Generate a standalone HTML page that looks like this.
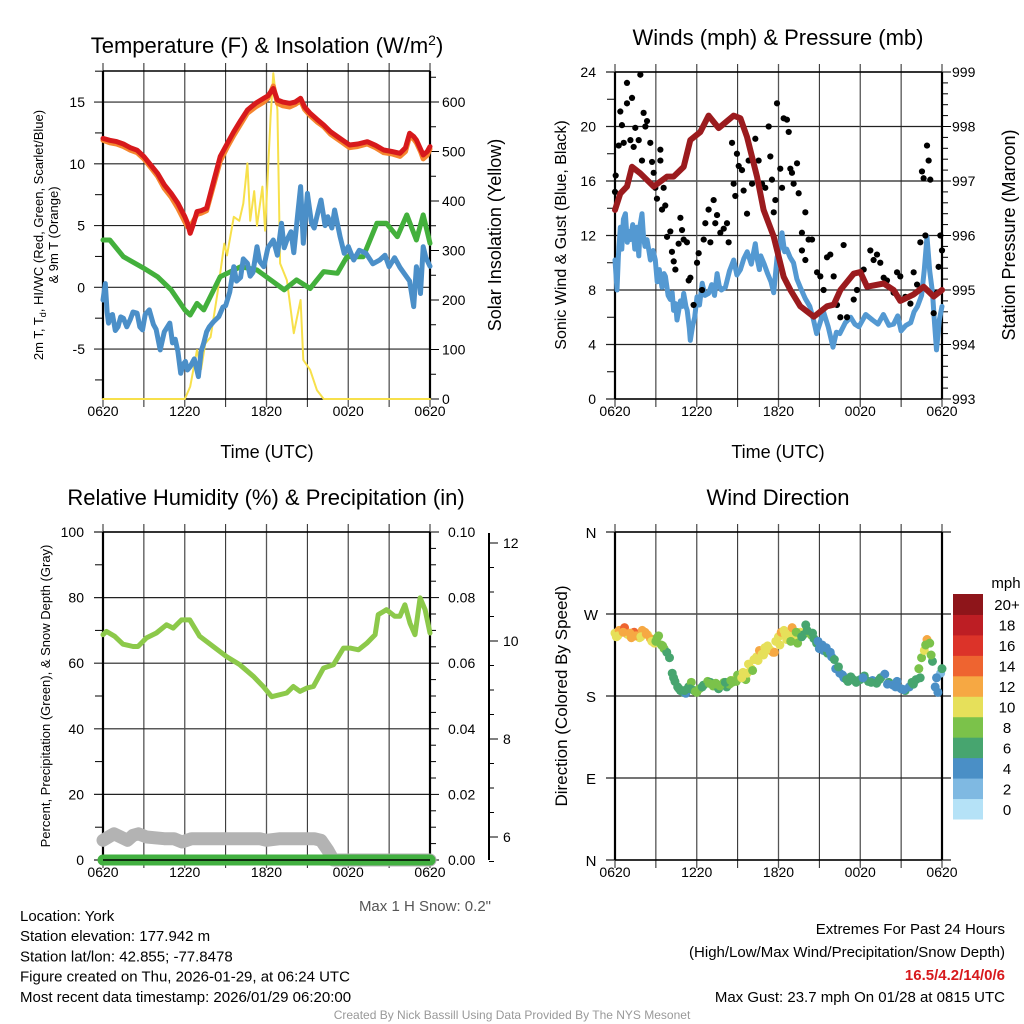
<!DOCTYPE html>
<html><head><meta charset="utf-8"><style>
html,body{margin:0;padding:0;background:#fff;width:1024px;height:1024px;overflow:hidden}
svg text{font-family:"Liberation Sans",sans-serif;fill:#000}
</style></head><body>
<svg id="root" xmlns="http://www.w3.org/2000/svg" width="1024" height="1024" viewBox="0 0 1024 1024"></svg>
<script>
// ---------- DATA ----------
const xTickLabels=["0620","1220","1820","0020","0620"];
const tempTicks=[-5,0,5,10,15];
const solarTicks=[0,100,200,300,400,500,600];
const windTicks=[0,4,8,12,16,20,24];
const presTicks=[993,994,995,996,997,998,999];
const rhTicks=[0,20,40,60,80,100];
const precipTicks=["0.00","0.02","0.04","0.06","0.08","0.10"];
const depthTicks=[6,8,10,12];
const dirLabels=["N","E","S","W","N"];
const dirTickDeg=[0,90,180,270,360];
const speedBins=["0","2","4","6","8","10","12","14","16","18","20+"];
const speedColors=["#b5e2f7","#7fb9e2","#4a8fc6","#47a56f","#7bc24a","#e6e05a","#f6a843","#ee6430","#dc3329","#bd1e24","#8e151a"];

const redH=[0,0.5,1,1.5,2,2.5,3,3.5,4,4.5,5,5.5,6,6.2,6.4,6.6,6.9,7.2,7.6,8.1,8.6,9.1,9.6,10.1,10.6,11.2,11.8,12.1,12.5,12.8,13.2,13.7,14.1,14.5,14.8,15.2,15.7,16.2,16.7,17.2,17.6,18.1,18.7,19.4,20,20.6,21.2,21.8,22.2,22.5,22.8,23,23.3,23.5,23.8,24];
const redV=[12.06,11.9,11.8,11.6,11.3,11.1,10.58,9.9,9.23,8.3,7.61,6.8,5.72,5.2,4.37,5.0,6.13,6.2,6.4,8.5,10.58,11.6,12.6,13.5,14.35,14.9,15.3,15.5,16.1,15.17,15.0,14.9,15.0,15.3,14.6,14.09,13.6,13.14,12.6,12.2,11.9,11.52,11.6,11.79,11.5,11.12,11.0,10.85,11.3,12.47,12.2,11.93,11.2,10.71,11.0,11.39];
const orangeV=[11.9,11.7,11.6,11.4,11.1,10.9,10.4,9.7,9.0,8.0,7.3,6.4,5.3,4.9,4.9,5.3,5.9,6.0,6.2,8.2,10.2,11.3,12.3,13.2,14.1,14.6,15.0,15.3,16.3,14.9,14.7,14.6,14.8,15.1,14.4,13.9,13.4,13.0,12.4,12.0,11.7,11.3,11.4,11.6,11.3,10.9,10.8,10.6,11.0,12.2,12.0,11.7,11.0,10.4,10.7,11.2];
const greenH=[0,0.5,1.5,3,4,5,6,6.4,6.9,7.4,8.6,10.1,11.3,12.3,13.3,14.2,15.2,16.2,17.2,17.9,19.1,20.1,20.8,21.6,22.3,23,23.5,24];
const greenV=[3.83,3.83,2.48,1.54,0.86,-0.2,-1.83,-2.24,-1.3,-1.83,0.86,1.67,1.4,0.6,-0.2,0.6,-0.1,1.27,1.13,2.48,2.48,5.18,5.18,4.1,5.86,3.83,5.86,3.56];
const blueH=[0,0.17,0.3,0.4,0.55,0.7,0.9,1.1,1.3,1.5,1.75,2.0,2.2,2.5,2.7,2.9,3.1,3.4,3.7,3.9,4.2,4.5,4.9,5.1,5.3,5.5,5.7,5.9,6.05,6.2,6.4,6.7,7.0,7.2,7.4,7.6,7.8,8.1,8.5,8.8,9.0,9.3,9.6,9.8,10.1,10.3,10.6,10.8,11.0,11.3,11.5,11.8,12.1,12.5,12.8,13.1,13.3,13.5,13.8,14.0,14.3,14.5,14.7,15.0,15.3,15.5,15.8,16.0,16.3,16.5,16.8,17.0,17.4,17.7,18.0,18.4,18.8,19.3,19.8,20.3,20.7,21.0,21.4,21.8,22.1,22.5,22.8,23.0,23.2,23.3,23.5,23.7,24];
const blueV=[-1.03,0.3,-2.0,-2.9,-2.3,-2.2,-3.5,-3.2,-2.4,-2.5,-3.2,-2.6,-2.0,-2.1,-3.2,-3.45,-2.2,-1.83,-3.0,-3.4,-5.07,-3.6,-2.9,-4.5,-4.2,-5.2,-6.96,-6.2,-6.0,-6.7,-6.42,-5.8,-7.23,-5.2,-4.5,-3.6,-3.2,-2.8,-2.37,-1.6,-1.5,-0.4,1.67,0.5,0.8,2.3,1.94,0.9,1.2,3.29,2.1,1.67,3.2,3.83,2.6,5.18,3.2,3.83,4.5,2.8,6.0,8.15,3.56,7.6,5.2,4.8,6.2,7.07,5.0,5.72,4.8,6.26,4.1,2.75,3.3,2.21,3.0,2.75,1.9,2.2,2.6,1.67,2.4,1.6,1.13,0.5,-1.56,1.67,0.8,-0.5,3.29,2.4,1.7];
const solarH=[0,6.0,6.4,6.9,7.2,7.5,7.9,8.4,8.9,9.1,9.6,10.0,10.3,10.6,10.8,11.1,11.3,11.7,11.9,12.3,12.5,12.8,13.0,13.5,14.0,14.5,14.7,15.2,15.7,16.2,24];
const solarV=[0,0,25,99,60,112,125,213,314,290,368,360,395,476,360,420,350,429,340,570,658,584,274,240,133,200,79,59,18,0,0];

const sonicH=[0,0.15,0.25,0.39,0.5,0.62,0.76,0.9,1.0,1.13,1.3,1.45,1.59,1.75,1.85,1.98,2.1,2.2,2.35,2.5,2.6,2.8,2.96,3.1,3.25,3.45,3.6,3.7,3.9,4.06,4.2,4.3,4.45,4.55,4.7,4.8,4.95,5.04,5.2,5.3,5.45,5.53,5.7,5.85,6.02,6.2,6.4,6.6,6.87,7.1,7.3,7.49,7.65,7.8,8.1,8.4,8.71,8.95,9.2,9.45,9.7,10.0,10.3,10.45,10.6,10.7,10.95,11.2,11.45,11.65,11.9,12.1,12.26,12.45,12.6,12.85,13.1,13.35,13.6,13.95,14.3,14.55,14.8,15.05,15.3,15.65,16,16.25,16.5,16.9,17.3,17.6,17.9,18.4,18.9,19.3,19.7,20.1,20.45,20.75,21,21.35,21.7,21.95,22.2,22.5,22.7,22.9,23.1,23.3,23.45,23.6,23.8,24];
const sonicV=[10.2,8,10.5,12.6,11,13.2,13.6,11.5,12.3,11.7,12.8,11,12.6,10.5,12.8,13.6,11.8,11.2,11.7,10.8,10.2,10.9,10.2,8.6,9.5,8.2,9.2,9,7.6,7.3,7.8,6.5,7.0,5.8,6.6,7.2,6.8,7.75,6.8,6.5,5.2,4.3,5.4,6,7.5,6.9,8.5,7.6,7.75,8.4,7.6,9.2,8.3,8,8.2,9.4,10.2,9.1,9.5,10.3,10.8,9.9,11.4,10.2,9.5,10.5,9.9,9.2,8.6,7.8,10.4,11.2,12.2,10.8,11,10.4,10,8.8,8.2,7.4,6.8,5.9,4.8,5.6,6.4,5.3,3.8,4.9,4.8,5.6,6,5.5,5.3,6.2,5.8,5.5,6.2,5.4,5.5,6.1,5,5.4,5.6,6.4,6.8,7.6,9.5,11.9,9.4,7.8,5.6,3.6,5.8,6.8];
const gustH=[0,0.05,0.27,0.39,0.51,0.64,0.88,0.88,1.25,1.13,1.37,1.49,1.74,1.86,2.1,2.23,2.35,1.98,2.59,2.72,2.84,2.96,3.08,3.33,3.33,3.57,3.45,3.69,3.82,4.06,4.18,4.31,4.43,4.67,4.8,4.92,5.04,5.28,5.41,5.53,5.77,6.02,6.14,6.39,6.51,6.63,6.87,7.0,7.24,7.36,7.49,7.73,7.98,8.22,8.34,8.59,8.71,8.83,8.95,9.08,9.32,9.44,9.69,9.81,10.06,10.3,10.54,10.79,11.03,11.28,11.4,11.52,11.65,11.77,11.89,12.13,12.26,12.38,12.62,12.75,12.87,12.99,13.11,13.36,13.48,13.72,13.97,13.72,13.97,14.21,14.46,14.83,15.07,15.31,15.56,15.8,16.05,16.29,16.54,16.78,17.03,17.52,17.76,18.25,18.74,18.98,19.23,19.47,19.72,19.96,20.45,20.7,20.94,21.31,21.68,21.92,22.17,22.41,22.53,22.65,22.78,22.9,23.02,23.14,23.39,23.63,23.75,23.88,24];
const gustV=[15.2,16.4,18.6,21.1,20.1,18.8,23.2,21.7,22.1,19,18.5,19.9,19,23.8,21,20,20.4,17.5,18.8,17.4,16.6,15.5,14.7,18.3,17.5,15.5,13.9,14.2,11.9,12.3,10.8,10.1,9.5,11.4,13.3,12.4,11.7,11.5,8.7,8.9,6.9,10,10.7,8,11.7,12.9,13.9,11.5,14.6,12.9,13.5,12.2,12.5,12.9,11.5,18.8,15.8,14.9,18,17.1,16.8,15.3,13.6,17.5,15.8,19.1,17.5,15.8,15.5,20,17.8,16.1,13.7,14.6,21.7,16.9,15.5,20.6,20.5,19.6,16.9,16.6,15.8,17.3,15.1,12.2,13.7,10.9,10.2,11.7,11.7,9.3,9,8,10.4,10.6,9,6.9,6,11.3,6,7.3,8,9.5,10.9,10.2,10.6,10,8.9,8.7,7.8,9.3,9,7.5,7,9.3,8.4,11.5,16.7,16.2,12,18.6,17.5,16.1,6.3,7.8,9.7,12,10.9];
const presH=[0,0.39,0.88,1.25,1.86,2.84,3.82,4.3,5.04,5.53,6.26,6.87,7.61,8.71,9.2,9.69,10.42,10.91,11.65,12.38,12.87,13.6,14.6,15.56,16.05,16.54,17.52,18,18.5,19.72,20.45,20.94,21.92,22.65,23.39,24];
const presV=[996.47,996.77,996.9,997.26,997.14,996.9,997.08,997.08,997.26,997.75,997.9,998.2,997.97,998.2,998.15,997.81,997.08,996.47,995.98,995.24,995,994.7,994.51,994.7,994.73,995,995.3,995.33,995.06,995.12,995,994.8,994.92,995.06,994.88,995];

const rhH=[0,0.25,0.86,1.47,2.2,2.57,3.19,3.92,4.66,5.15,5.76,6.37,7.1,8.09,9.07,10.05,11.03,11.76,12.38,13.48,13.97,14.46,14.95,15.44,16.18,16.91,17.65,18.14,18.75,19.36,19.97,20.2,20.81,21.42,21.79,22.16,22.53,22.9,23.27,23.64,24];
const rhV=[68.7,69.7,68.2,65.8,65.1,65.1,67.7,69.2,71.7,70.7,73.2,73.2,68.2,65.1,62,59.5,56,52.9,49.8,50.9,52.9,51.4,52.4,52.9,58.5,59.5,64.6,64.6,64.1,66.1,68.7,74.8,76.3,74.3,74.3,77.8,72.2,68.7,79.9,76.3,69.2];
const snowH=[0,0.4,0.8,1.3,1.8,2.2,2.6,3.2,4.5,5.2,5.8,6.5,8,10,11.5,12,13,14,15,15.5,16,16.5,16.9,18,24];
const snowV=[6,7,8,7,6,7.5,8,7,6.5,6.5,5.5,6.5,6.5,6.5,6.5,6,6.5,6.5,6.5,6.5,6,3,0,0,0];
const precipH=[0,24];
const precipV=[0,0];

const dirH=[0,0.1,0.3,0.5,0.7,0.9,1.0,1.2,1.4,1.6,1.8,2.0,2.2,2.4,2.6,2.7,2.9,3.1,3.2,3.4,3.6,3.8,4.0,4.2,4.4,4.6,4.8,5.0,5.2,5.4,5.6,5.8,6.0,6.2,6.5,6.8,7.0,7.2,7.4,7.6,7.8,8.0,8.2,8.4,8.6,8.8,9.0,9.2,9.4,9.6,9.8,10.0,10.2,10.4,10.6,10.8,11.0,11.2,11.4,11.6,11.8,12.0,12.2,12.4,12.6,12.8,13.0,13.2,13.4,13.6,13.8,14.0,14.2,14.4,14.6,14.8,15.0,15.3,15.6,15.9,16.2,16.5,16.8,17.1,17.4,17.7,18.0,18.3,18.6,18.9,19.2,19.5,19.8,20.1,20.4,20.7,21.0,21.3,21.6,21.9,22.1,22.3,22.5,22.7,22.9,23.1,23.3,23.5,23.7,23.9,24,
 0.2,0.6,1.1,1.5,1.9,2.3,3.0,3.5,4.3,4.7,5.1,5.5,5.9,6.4,6.9,7.3,7.7,8.1,8.5,8.9,9.3,9.7,10.1,10.5,10.9,11.3,11.7,12.1,12.5,12.9,13.3,13.7,14.1,14.5,14.9,15.2,15.5,15.8,16.1,16.4,16.7,17.0,17.3,17.6,18.2,18.8,19.4,20.0,20.6,21.2,21.8,22.4,22.8,23.2,23.6];
const dirV=[249,245,252,250,255,248,247,244,250,246,244,252,250,247,243,240,238,244,246,236,232,228,222,205,196,190,186,184,183,190,195,186,184,188,192,196,195,191,194,188,192,195,190,193,195,198,203,200,206,198,215,210,220,223,230,226,233,235,230,228,240,245,250,252,242,247,255,243,238,250,247,258,250,247,243,238,232,230,227,223,210,205,200,196,199,195,198,202,196,197,194,200,204,195,192,196,188,186,190,193,198,210,222,230,242,238,218,190,184,205,210,
 246,250,249,246,245,248,240,235,200,188,186,188,185,190,194,193,191,195,197,196,200,205,208,219,225,232,228,236,248,240,250,245,252,249,240,236,233,228,220,212,203,198,201,197,200,195,198,193,190,187,195,200,236,225,200];
const dirS=[10,10,12,12,14,12,11,12,14,12,11,12,12,10,12,11,10,8,9,8,8,7,6,7,6,7,6,6,5,7,8,6,8,8,7,8,7,8,8,7,9,8,7,8,9,10,9,8,10,9,10,10,10,11,12,11,10,10,11,12,10,11,12,10,11,10,12,10,9,10,7,7,8,8,6,7,5,5,6,5,4,4,5,6,6,6,7,6,6,5,6,6,5,6,4,5,5,6,5,6,7,8,9,10,12,9,7,5,4,3,6,
 11,12,12,13,10,12,9,8,6,7,6,7,8,7,8,9,8,7,9,8,10,10,9,10,11,10,12,10,11,9,8,7,6,6,5,4,5,4,6,6,5,6,6,6,5,6,6,5,4,5,6,7,8,8,5];

// ---------- HELPERS ----------
const NS="http://www.w3.org/2000/svg";
const root=document.getElementById('root');
function el(tag,attrs,parent){const e=document.createElementNS(NS,tag);for(const k in attrs)e.setAttribute(k,attrs[k]);(parent||root).appendChild(e);return e;}
function txt(s,x,y,size,anchor,parent,extra){const t=el('text',Object.assign({x:x,y:y,'font-size':size,'text-anchor':anchor||'middle'},extra||{}),parent);t.textContent=s;return t;}
function line(x1,y1,x2,y2,c,w,parent){return el('line',{x1:x1,y1:y1,x2:x2,y2:y2,stroke:c,'stroke-width':w},parent);}
function poly(H,V,xs,ys,color,w,parent){let d='';for(let i=0;i<H.length;i++)d+=(i?'L':'M')+xs(H[i]).toFixed(1)+','+ys(V[i]).toFixed(1);return el('path',{d:d,fill:'none',stroke:color,'stroke-width':w,'stroke-linejoin':'round','stroke-linecap':'round'},parent);}

function frame(g,x0,x1,yt,yb){
  for(let k=0;k<=8;k++){const x=x0+k*(x1-x0)/8;const l=line(x,yt-8,x,yb+8,k%2?'#222':'#555',k%2?1:1.3,g);
    
    }
  line(x0,yt,x1,yt,'#000',1.5,g);line(x0,yb,x1,yb,'#000',1.5,g);
  line(x0,yt,x0,yb,'#000',2.2,g);line(x1,yt,x1,yb,'#000',2.2,g);
  for(let k=0;k<5;k++){const t=txt(xTickLabels[k],x0+k*(x1-x0)/4,yb+17,14,'middle',g);
    
    }
}
function hgrid(g,ys,vals,x0,x1){vals.forEach(v=>{line(x0-9,ys(v),x1,ys(v),'#222',1.2,g);});}

// ---------- PANEL 1 ----------
(function(){
  const g=el('g',{});
  const x0=103,x1=430,yt=71,yb=399;
  const xs=h=>x0+h*(x1-x0)/24, yL=v=>287.3-12.35*v, yR=v=>399-0.495*v;
  hgrid(g,yL,tempTicks,x0,x1);
  for(let v=-7.5;v<=17.5;v+=2.5){if(v%5!==0)line(x0-8,yL(v),x0,yL(v),'#000',1,g);}
  for(let v=0;v<=650;v+=50){line(x1,yR(v),x1+(v%100===0?9:6),yR(v),'#000',1,g);}
  frame(g,x0,x1,yt,yb);
  tempTicks.forEach(v=>{const t=txt(String(v),85,yL(v)+5,14,'end',g);});
  solarTicks.forEach(v=>{const t=txt(String(v),442,yR(v)+5,14,'start',g);});
  const s1=poly(solarH,solarV,xs,yR,'#f7e04b',2,g);
  const s2=poly(greenH,greenV,xs,yL,'#43b03c',5,g);
  const s3=poly(blueH,blueV,xs,yL,'#4b8fc8',5,g);
  const s4=poly(redH,orangeV,xs,yL,'#f5862f',5,g);
  const s5=poly(redH,redV,xs,yL,'#d7191c',5,g);
  const tt=el('text',{x:267,y:53,'font-size':22,'text-anchor':'middle'},g);tt.innerHTML='Temperature (F) &amp; Insolation (W/m<tspan dy="-8" font-size="14">2</tspan><tspan dy="8">)</tspan>';
  
  const xt=txt('Time (UTC)',267,458,18,'middle',g);
  const a1=el('text',{x:0,y:0,'font-size':13,'text-anchor':'middle',transform:'translate(43,235) rotate(-90)'},g);a1.innerHTML='2m T, T<tspan dy="3" font-size="9">d</tspan><tspan dy="-3">, HI/WC (Red, Green, Scarlet/Blue)</tspan>';
  
  const a2=txt('& 9m T (Orange)',0,0,13,'middle',g,{transform:'translate(58,235) rotate(-90)'});
  const a3=txt('Solar Insolation (Yellow)',0,0,18,'middle',g,{transform:'translate(501,235) rotate(-90)'});
})();

// ---------- PANEL 2 ----------
(function(){
  const g=el('g',{});
  const x0=615,x1=942,yt=72,yb=399;
  const xs=h=>x0+h*(x1-x0)/24, yL=v=>399-13.625*v, yR=p=>399-(p-993)*54.5;
  hgrid(g,yL,windTicks,x0,x1);
  for(let v=2;v<24;v+=4)line(x0-8,yL(v),x0,yL(v),'#000',1,g);
  for(let p=993;p<=999.001;p+=0.2){line(x1,yR(p),x1+(Math.abs(p-Math.round(p))<0.01?9:6),yR(p),'#000',1,g);}
  frame(g,x0,x1,yt,yb);
  windTicks.forEach(v=>{const t=txt(String(v),596,yL(v)+5,14,'end',g);});
  presTicks.forEach(v=>{const t=txt(String(v),952,yR(v)+5,14,'start',g);});
  const s1=poly(sonicH,sonicV,xs,yL,'#5499d2',5,g);
  for(let i=0;i<gustH.length;i++){const c=el('circle',{cx:xs(gustH[i]),cy:yL(gustV[i]),r:3.1,fill:'#000'},g);
    
    }
  const s2=poly(presH,presV,xs,yR,'#9b1b1e',6,g);
  const tt=txt('Winds (mph) & Pressure (mb)',778,45,22,'middle',g);
  const xt=txt('Time (UTC)',778,458,18,'middle',g);
  const a1=txt('Sonic Wind & Gust (Blue, Black)',0,0,16,'middle',g,{transform:'translate(566,235) rotate(-90)'});
  const a2=txt('Station Pressure (Maroon)',0,0,18,'middle',g,{transform:'translate(1015,235) rotate(-90)'});
})();

// ---------- PANEL 3 ----------
(function(){
  const g=el('g',{});
  const x0=103,x1=430,yt=532,yb=860;
  const xs=h=>x0+h*(x1-x0)/24, yL=v=>860-3.28*v, yD=d=>837-(d-6)*49;
  hgrid(g,yL,rhTicks,x0,x1);
  for(let v=10;v<100;v+=20)line(x0-8,yL(v),x0,yL(v),'#000',1,g);
  for(let v=0;v<=100;v+=5)line(x1,yL(v),x1+(v%20===0?9:6),yL(v),'#000',1,g);
  frame(g,x0,x1,yt,yb);
  rhTicks.forEach(v=>{const t=txt(String(v),84,yL(v)+5,14,'end',g);});
  precipTicks.forEach((s,i)=>{const t=txt(s,448,yL(i*20)+5,14,'start',g);});
  line(489,533,489,860,'#000',2,g);
  for(let d=5.5;d<=12.3;d+=0.5){line(489,yD(d),489+(Math.abs(d%2)<0.01?9:5),yD(d),'#000',1,g);}
  depthTicks.forEach(v=>{const t=txt(String(v),503,yD(v)+5,14,'start',g);});
  const s1=poly(snowH,snowV,xs,yL,'#b3b3b3',13,g);
  const s2=poly(precipH,precipV,xs,yL,'#42b040',11,g);
  line(x0,yb,x1,yb,'#000',1.5,g);
  const s3=poly(rhH,rhV,xs,yL,'#8cc94a',5,g);
  const tt=txt('Relative Humidity (%) & Precipitation (in)',266,505,22,'middle',g);
  const a1=txt('Percent, Precipitation (Green), & Snow Depth (Gray)',0,0,13,'middle',g,{transform:'translate(50,696) rotate(-90)'});
  const n=txt('Max 1 H Snow: 0.2"',491,911,15,'end',g,{style:'fill:#555'});
})();

// ---------- PANEL 4 ----------
(function(){
  const g=el('g',{});
  const x0=615,x1=942,yt=532,yb=860;
  const xs=h=>x0+h*(x1-x0)/24, yD=d=>860-d*0.9111;
  dirTickDeg.forEach(d=>line(x0-9,yD(d),x1+9,yD(d),'#222',1.2,g));
  frame(g,x0,x1,yt,yb);
  dirTickDeg.forEach((d,i)=>{const t=txt(dirLabels[i],591,yD(d)+6,15,'middle',g);});
  for(let i=0;i<dirH.length;i++){const bin=Math.min(10,Math.floor(dirS[i]/2));
    const c=el('circle',{cx:xs(dirH[i]),cy:yD(dirV[i]),r:4.5,fill:speedColors[bin]},g);
    
    }
  const tt=txt('Wind Direction',778,505,22,'middle',g);
  const a1=txt('Direction (Colored By Speed)',0,0,17,'middle',g,{transform:'translate(567,696) rotate(-90)'});
  const cb=el('g',{},g);
  const segH=(819-594)/11;
  for(let i=0;i<11;i++){const y=819-(i+1)*segH;
    const r=el('rect',{x:953,y:y,width:30,height:segH+0.5,fill:speedColors[i]},cb);
    
    
    const t=txt(speedBins[i],1007,y+segH/2+6,15,'middle',cb);
    
    }
  const m=txt('mph',1006,588,15,'middle',cb);
})();

// ---------- FOOTER TEXT ----------
(function(){
  const g=el('g',{});
  const lines=["Location: York","Station elevation: 177.942 m","Station lat/lon: 42.855; -77.8478","Figure created on Thu, 2026-01-29, at 06:24 UTC","Most recent data timestamp: 2026/01/29 06:20:00"];
  lines.forEach((s,i)=>{const t=txt(s,20,921+i*20.2,15,'start',g);});
  const g2=el('g',{});
  const e1=txt('Extremes For Past 24 Hours',1005,934,15,'end',g2);
  const e2=txt('(High/Low/Max Wind/Precipitation/Snow Depth)',1005,957,15,'end',g2);
  const e3=txt('16.5/4.2/14/0/6',1005,980,15,'end',g2,{'font-weight':'bold',style:'fill:#d7191c'});
  const e4=txt('Max Gust: 23.7 mph On 01/28 at 0815 UTC',1005,1002,15,'end',g2);
  const c=txt('Created By Nick Bassill Using Data Provided By The NYS Mesonet',512,1019,12,'middle',null,{style:'fill:#999'});
})();
</script>
</body></html>
